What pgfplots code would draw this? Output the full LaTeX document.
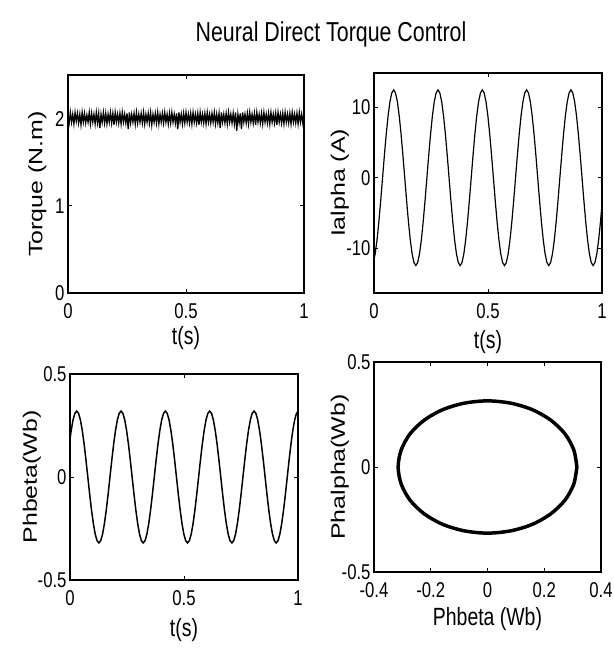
\documentclass[border=0pt]{standalone}
\usepackage{fontspec}
\setmainfont{Liberation Sans}
\newfontfamily\nar{Liberation Sans}[FakeStretch=0.78]
\usepackage{graphicx}
\usepackage{pgfplots}
\pgfplotsset{compat=1.18}

\pgfplotstableread{
t ia pb
-0.0110 -12.5 0.083
-0.0029 -12.07 0.16
0.0052 -10.83 0.226
0.0133 -8.84 0.277
0.0214 -6.25 0.309
0.0295 -3.24 0.32
0.0376 0 0.309
0.0457 3.24 0.277
0.0538 6.25 0.226
0.0619 8.84 0.16
0.0700 10.83 0.083
0.0781 12.07 0
0.0862 12.5 -0.083
0.0943 12.07 -0.16
0.1024 10.83 -0.226
0.1105 8.84 -0.277
0.1186 6.25 -0.309
0.1267 3.24 -0.32
0.1348 0 -0.309
0.1429 -3.24 -0.277
0.1510 -6.25 -0.226
0.1591 -8.84 -0.16
0.1672 -10.83 -0.083
0.1753 -12.07 0
0.1834 -12.5 0.083
0.1915 -12.07 0.16
0.1996 -10.83 0.226
0.2077 -8.84 0.277
0.2158 -6.25 0.309
0.2239 -3.24 0.32
0.2320 0 0.309
0.2401 3.24 0.277
0.2482 6.25 0.226
0.2563 8.84 0.16
0.2644 10.83 0.083
0.2725 12.07 0
0.2806 12.5 -0.083
0.2887 12.07 -0.16
0.2968 10.83 -0.226
0.3049 8.84 -0.277
0.3130 6.25 -0.309
0.3211 3.24 -0.32
0.3292 0 -0.309
0.3373 -3.24 -0.277
0.3454 -6.25 -0.226
0.3535 -8.84 -0.16
0.3616 -10.83 -0.083
0.3697 -12.07 0
0.3778 -12.5 0.083
0.3859 -12.07 0.16
0.3940 -10.83 0.226
0.4021 -8.84 0.277
0.4102 -6.25 0.309
0.4183 -3.24 0.32
0.4264 0 0.309
0.4345 3.24 0.277
0.4426 6.25 0.226
0.4507 8.84 0.16
0.4588 10.83 0.083
0.4669 12.07 0
0.4750 12.5 -0.083
0.4831 12.07 -0.16
0.4912 10.83 -0.226
0.4993 8.84 -0.277
0.5074 6.25 -0.309
0.5155 3.24 -0.32
0.5236 0 -0.309
0.5317 -3.24 -0.277
0.5398 -6.25 -0.226
0.5479 -8.84 -0.16
0.5560 -10.83 -0.083
0.5641 -12.07 0
0.5722 -12.5 0.083
0.5803 -12.07 0.16
0.5884 -10.83 0.226
0.5965 -8.84 0.277
0.6046 -6.25 0.309
0.6127 -3.24 0.32
0.6208 0 0.309
0.6289 3.24 0.277
0.6370 6.25 0.226
0.6451 8.84 0.16
0.6532 10.83 0.083
0.6613 12.07 0
0.6694 12.5 -0.083
0.6775 12.07 -0.16
0.6856 10.83 -0.226
0.6937 8.84 -0.277
0.7018 6.25 -0.309
0.7099 3.24 -0.32
0.7180 0 -0.309
0.7261 -3.24 -0.277
0.7342 -6.25 -0.226
0.7423 -8.84 -0.16
0.7504 -10.83 -0.083
0.7585 -12.07 0
0.7666 -12.5 0.083
0.7747 -12.07 0.16
0.7828 -10.83 0.226
0.7909 -8.84 0.277
0.7990 -6.25 0.309
0.8071 -3.24 0.32
0.8152 0 0.309
0.8233 3.24 0.277
0.8314 6.25 0.226
0.8395 8.84 0.16
0.8476 10.83 0.083
0.8557 12.07 0
0.8638 12.5 -0.083
0.8719 12.07 -0.16
0.8800 10.83 -0.226
0.8881 8.84 -0.277
0.8962 6.25 -0.309
0.9043 3.24 -0.32
0.9124 0 -0.309
0.9205 -3.24 -0.277
0.9286 -6.25 -0.226
0.9367 -8.84 -0.16
0.9448 -10.83 -0.083
0.9529 -12.07 0
0.9610 -12.5 0.083
0.9691 -12.07 0.16
0.9772 -10.83 0.226
0.9853 -8.84 0.277
0.9934 -6.25 0.309
1.0015 -3.24 0.32
}\waves

\pgfplotsset{
  mfig/.style={
    scale only axis,
    anchor=north west,
    axis line style={line width=1.2pt},
    tick align=inside,
    major tick length=4bp,
    tick style={black, line width=0.7pt},
    tick label style={font=\nar\fontsize{21.5}{24}\selectfont},
    xticklabel style={yshift=-7bp},
    xlabel style={font=\nar\fontsize{25}{28}\selectfont, anchor=center},
    ylabel style={font=\fontsize{25}{28}\selectfont, anchor=center},
  },
}

\begin{document}
\begin{tikzpicture}
\path[use as bounding box] (0bp,0bp) rectangle (614bp,-651bp);
\node[font=\nar\fontsize{27.5}{31}\selectfont] at (331bp,-34bp) {Neural Direct Torque Control};

% torque
\begin{axis}[mfig, at={(68bp,-75bp)}, width=236bp, height=218bp,
  xmin=0, xmax=1, ymin=0, ymax=2.5,
  xtick={0,0.5,1}, xticklabels={0,0.5,1},
  ytick={0,1,2}, yticklabels={0,1,2},
  xlabel={t(s)}, xlabel style={at={(axis description cs:0.5,-0.205)}},
  ylabel={\scalebox{1}[0.78]{Torque (N.m)}}, ylabel style={at={(axis description cs:-0.13,0.5)}}]
\addplot[black, line width=1.3pt, mark=none] coordinates {
(0,2.03)(0.005,1.95)(0.01,2.07)(0.015,1.96)(0.02,2.05)(0.025,1.94)(0.03,2.07)(0.035,1.97)(0.04,2.06)(0.045,1.95)
(0.05,2.05)(0.055,1.93)(0.06,2.07)(0.065,1.96)(0.07,2.06)(0.075,1.95)(0.08,2.04)(0.085,1.96)(0.09,2.07)(0.095,1.94)
(0.1,2.06)(0.105,1.96)(0.11,2.05)(0.115,1.94)(0.12,2.07)(0.125,1.95)(0.13,2.06)(0.135,1.89)(0.14,2.05)(0.145,1.96)
(0.15,2.07)(0.155,1.95)(0.16,2.06)(0.165,1.94)(0.17,2.05)(0.175,1.96)(0.18,2.07)(0.185,1.95)(0.19,2.06)(0.195,1.93)
(0.2,2.07)(0.205,1.96)(0.21,2.05)(0.215,1.95)(0.22,2.06)(0.225,1.94)(0.23,2.07)(0.235,1.96)(0.24,2.05)(0.245,1.95)
(0.25,2.06)(0.255,1.88)(0.26,2.07)(0.265,1.95)(0.27,2.05)(0.275,1.96)(0.28,2.06)(0.285,1.94)(0.29,2.07)(0.295,1.95)
(0.3,2.05)(0.305,1.96)(0.31,2.06)(0.315,1.95)(0.32,2.07)(0.325,1.94)(0.33,2.05)(0.335,1.96)(0.34,2.06)(0.345,1.95)
(0.35,2.07)(0.355,1.93)(0.36,2.05)(0.365,1.96)(0.37,2.06)(0.375,1.95)(0.38,2.07)(0.385,1.94)(0.39,2.05)(0.395,1.96)
(0.4,2.06)(0.405,1.95)(0.41,2.07)(0.415,1.96)(0.42,2.05)(0.425,1.94)(0.43,2.06)(0.435,1.95)(0.44,2.07)(0.445,1.96)
(0.45,2.05)(0.455,1.95)(0.46,2.06)(0.465,1.88)(0.47,2.07)(0.475,1.96)(0.48,2.05)(0.485,1.94)(0.49,2.06)(0.495,1.95)
(0.5,2.07)(0.505,1.96)(0.51,2.05)(0.515,1.95)(0.52,2.06)(0.525,1.94)(0.53,2.07)(0.535,1.96)(0.54,2.05)(0.545,1.95)
(0.55,2.06)(0.555,1.93)(0.56,2.07)(0.565,1.96)(0.57,2.05)(0.575,1.95)(0.58,2.06)(0.585,1.94)(0.59,2.07)(0.595,1.96)
(0.6,2.05)(0.605,1.95)(0.61,2.06)(0.615,1.96)(0.62,2.07)(0.625,1.94)(0.63,2.05)(0.635,1.95)(0.64,2.06)(0.645,1.89)
(0.65,2.07)(0.655,1.96)(0.66,2.05)(0.665,1.95)(0.67,2.06)(0.675,1.94)(0.68,2.07)(0.685,1.96)(0.69,2.05)(0.695,1.95)
(0.7,2.06)(0.705,1.94)(0.71,2.07)(0.715,1.86)(0.72,2.05)(0.725,1.95)(0.73,2.06)(0.735,1.88)(0.74,2.07)(0.745,1.96)
(0.75,2.05)(0.755,1.95)(0.76,2.06)(0.765,1.94)(0.77,2.07)(0.775,1.96)(0.78,2.05)(0.785,1.95)(0.79,2.06)(0.795,1.93)
(0.8,2.07)(0.805,1.96)(0.81,2.05)(0.815,1.95)(0.82,2.06)(0.825,1.94)(0.83,2.07)(0.835,1.96)(0.84,2.05)(0.845,1.95)
(0.85,2.06)(0.855,1.94)(0.86,2.07)(0.865,1.96)(0.87,2.05)(0.875,1.95)(0.88,2.06)(0.885,1.93)(0.89,2.07)(0.895,1.96)
(0.9,2.05)(0.905,1.95)(0.91,2.06)(0.915,1.94)(0.92,2.07)(0.925,1.96)(0.93,2.05)(0.935,1.95)(0.94,2.06)(0.945,1.94)
(0.95,2.07)(0.955,1.96)(0.96,2.05)(0.965,1.95)(0.97,2.06)(0.975,1.94)(0.98,2.07)(0.985,1.96)(0.99,2.05)(0.995,1.95)(1,2.06)
};
\end{axis}

% Ialpha
\begin{axis}[mfig, at={(374bp,-73bp)}, width=228bp, height=220bp,
  xmin=0, xmax=1, ymin=-16.4, ymax=14.9,
  xtick={0,0.5,1}, xticklabels={0,0.5,1},
  ytick={-10,0,10}, yticklabels={-10,0,10},
  xlabel={t(s)}, xlabel style={at={(axis description cs:0.5,-0.225)}},
  ylabel={\scalebox{1}[0.78]{Ialpha (A)}}, ylabel style={at={(axis description cs:-0.15,0.5)}}]
\addplot[black, line width=1.2pt, mark=none] table[x=t, y=ia] {\waves};
\end{axis}

% Phbeta vs t
\begin{axis}[mfig, at={(70bp,-374bp)}, width=228bp, height=206bp,
  xmin=0, xmax=1, ymin=-0.5, ymax=0.5,
  xtick={0,0.5,1}, xticklabels={0,0.5,1},
  ytick={-0.5,0,0.5}, yticklabels={-0.5,0,0.5},
  xlabel={t(s)}, xlabel style={at={(axis description cs:0.5,-0.245)}},
  ylabel={\scalebox{1}[0.78]{Phbeta(Wb)}}, ylabel style={at={(axis description cs:-0.167,0.5)}}]
\addplot[black, line width=1.5pt, mark=none] table[x=t, y=pb] {\waves};
\end{axis}

% flux locus
\begin{axis}[mfig, at={(374bp,-362bp)}, width=227bp, height=210bp,
  xmin=-0.4, xmax=0.4, ymin=-0.5, ymax=0.5,
  xtick={-0.4,-0.2,0,0.2,0.4}, xticklabels={-0.4,-0.2,0,0.2,0.4},
  ytick={-0.5,0,0.5}, yticklabels={-0.5,0,0.5},
  xlabel={Phbeta (Wb)}, xlabel style={at={(axis description cs:0.5,-0.225)}},
  ylabel={\scalebox{1}[0.78]{Phalpha(Wb)}}, ylabel style={at={(axis description cs:-0.15,0.5)}}]
\addplot[black, line width=3.5pt, mark=none, smooth] coordinates {
(0.315,0)(0.304,0.082)(0.273,0.158)(0.223,0.223)(0.158,0.273)(0.082,0.304)
(0,0.315)(-0.082,0.304)(-0.158,0.273)(-0.223,0.223)(-0.273,0.158)(-0.304,0.082)
(-0.315,0)(-0.304,-0.082)(-0.273,-0.158)(-0.223,-0.223)(-0.158,-0.273)(-0.082,-0.304)
(0,-0.315)(0.082,-0.304)(0.158,-0.273)(0.223,-0.223)(0.273,-0.158)(0.304,-0.082)(0.315,0)
};
\end{axis}
\end{tikzpicture}
\end{document}
